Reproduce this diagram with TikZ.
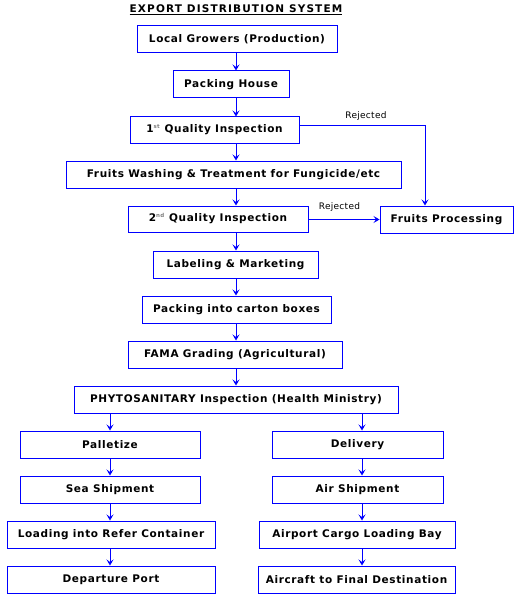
\documentclass[tikz,border=0pt]{standalone}
\usepackage{fontspec}
\setmainfont{DejaVu Sans}
\newfontfamily\boxfont[LetterSpace=6]{DejaVu Sans Bold}
\newfontfamily\titlefont[LetterSpace=11]{DejaVu Sans Bold}
\newfontfamily\labfont[LetterSpace=3]{DejaVu Sans}
\usetikzlibrary{arrows.meta}
\definecolor{lineblue}{RGB}{0,0,255}
\tikzset{
  box/.style={draw=lineblue, line width=1pt, rectangle, inner sep=0pt, minimum height=27pt,
    font=\boxfont\fontsize{10.5}{12}\selectfont, text=black, anchor=center},
  arr/.style={draw=lineblue, line width=1pt, -{Stealth[length=6pt,width=7pt,inset=2.5pt]}},
  rej/.style={font=\labfont\fontsize{9}{10}\selectfont, text=black, inner sep=0pt}
}
\newcommand{\supx}[1]{\textsuperscript{\color{gray}\fontsize{5.5}{6}\selectfont #1}}
\begin{document}
\begin{tikzpicture}[x=1pt,y=-1pt]
\useasboundingbox (0,0) rectangle (520,599);
\node[font=\titlefont\fontsize{10.5}{12}\selectfont, inner sep=0pt] (title) at (236,10) {\underline{EXPORT DISTRIBUTION SYSTEM}};
\coordinate (spine) at (236,0);
\coordinate (lsp) at (110,0);
\coordinate (rsp) at (362,0);
\node[box, minimum width=200pt] (b1) at (237,39.5) {Local Growers (Production)};
\node[box, minimum width=116pt] (b2) at (231,84.5) {Packing House};
\node[box, minimum width=169pt, minimum height=26pt] (b3) at (214.5,130) {1\supx{st} Quality Inspection};
\node[box, minimum width=335pt] (b4) at (233.5,174.5) {Fruits Washing \& Treatment for Fungicide/etc};
\node[box, minimum width=180pt, minimum height=26pt] (b5) at (218,219) {2\supx{nd} Quality Inspection};
\node[box, minimum width=133pt] (fp) at (446.5,219.5) {Fruits Processing};
\node[box, minimum width=165pt] (b6) at (235.5,264.5) {Labeling \& Marketing};
\node[box, minimum width=189pt] (b7) at (236.5,309.5) {Packing into carton boxes};
\node[box, minimum width=214pt] (b8) at (235,354.5) {FAMA Grading (Agricultural)};
\node[box, minimum width=324pt] (b9) at (236,399.5) {PHYTOSANITARY Inspection (Health Ministry)};
\node[box, minimum width=180pt] (l1) at (110,444.5) {Palletize};
\node[box, minimum width=180pt] (l2) at (110,489.5) {Sea Shipment};
\node[box, minimum width=208pt] (l3) at (111,534.5) {Loading into Refer Container};
\node[box, minimum width=208pt] (l4) at (111,579.5) {Departure Port};
\node[box, minimum width=171pt] (r1) at (357.5,444.5) {Delivery};
\node[box, minimum width=171pt] (r2) at (357.5,489.5) {Air Shipment};
\node[box, minimum width=196pt] (r3) at (357,534.5) {Airport Cargo Loading Bay};
\node[box, minimum width=197pt] (r4) at (356.5,579.5) {Aircraft to Final Destination};
% spine arrows
\foreach \a/\b in {b1/b2,b2/b3,b3/b4,b4/b5,b5/b6,b6/b7,b7/b8,b8/b9}
  \draw[arr] (\a.south -| spine) -- (\b.north -| spine);
\draw[arr] (b9.south -| lsp) -- (l1.north -| lsp);
\foreach \a/\b in {l1/l2,l2/l3,l3/l4}
  \draw[arr] (\a.south -| lsp) -- (\b.north -| lsp);
\draw[arr] (b9.south -| rsp) -- (r1.north -| rsp);
\foreach \a/\b in {r1/r2,r2/r3,r3/r4}
  \draw[arr] (\a.south -| rsp) -- (\b.north -| rsp);
% rejected
\coordinate (c1) at (425,125);
\draw[arr] (b3.east |- c1) -- (c1) -- (fp.north -| c1);
\node[rej] (rj1) at (366,116.5) {Rejected};
\draw[arr] (b5.east |- fp.west) -- (fp.west);
\node[rej] (rj2) at (339.5,207) {Rejected};
\end{tikzpicture}
\end{document}
